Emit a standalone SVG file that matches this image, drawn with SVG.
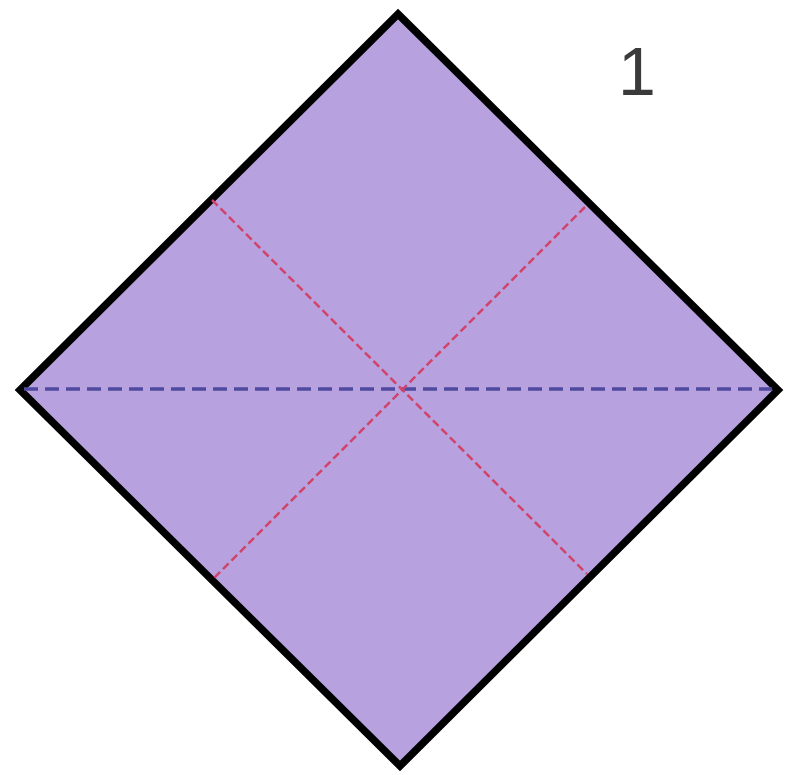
<svg xmlns="http://www.w3.org/2000/svg" width="788" height="775" viewBox="0 0 788 775">
<style>
.fold-valley{stroke:#d2436a;stroke-width:2.5;stroke-dasharray:8 4;fill:none}
.fold-mountain{stroke:#4f4aa0;stroke-width:3.5;stroke-dasharray:14 7;fill:none}
</style>
<rect width="788" height="775" fill="#ffffff"/>
<g id="paper">
<polygon points="398,14 778,390 400,766 20,390" fill="#b7a2df" stroke="#000000" stroke-width="7.5" stroke-linejoin="miter"/>
</g>
<g id="folds">
<line class="fold-mountain" x1="24" y1="389" x2="772" y2="389"/>
<line class="fold-valley" x1="212" y1="200" x2="587" y2="574"/>
<line class="fold-valley" x1="585" y1="207" x2="214" y2="578"/>
</g>
<g id="label-1">
<text x="618" y="95" font-family="'Liberation Sans', Arial, sans-serif" font-size="68" fill="#3a3a3a">1</text>
</g>
</svg>
